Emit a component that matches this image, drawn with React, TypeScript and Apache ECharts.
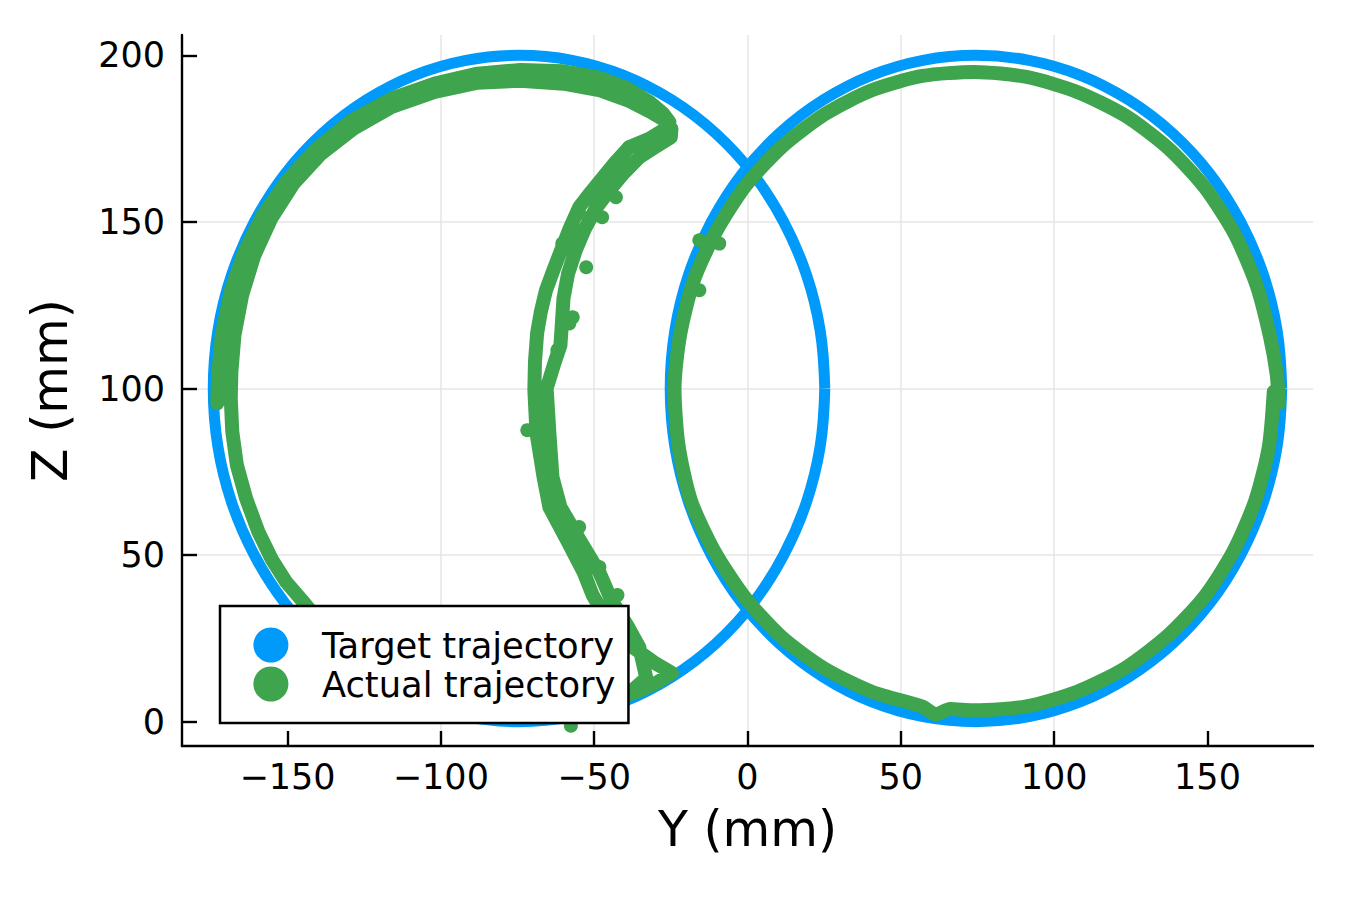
import React, { useEffect, useRef } from "react";
import * as echarts from "echarts";

// ---- data ----
const xTicks = [-150, -100, -50, 0, 50, 100, 150];
const yTicks = [0, 50, 100, 150, 200];
const xRange = [-184.4, 184.4];
const yRange = [-7.3, 206.1];

const seriesNames = ["Target trajectory", "Actual trajectory"];

// target trajectory: left loop
const targetLeft: number[][] = [
  [25.2, 100], [23.7, 117.4], [19.2, 134.2], [11.8, 150], [1.9, 164.3], [-10.4, 176.6],
  [-24.7, 186.6], [-40.4, 194], [-57.2, 198.5], [-74.5, 200], [-91.8, 198.5], [-108.6, 194],
  [-124.3, 186.6], [-138.6, 176.6], [-150.9, 164.3], [-160.8, 150], [-168.2, 134.2], [-172.7, 117.4],
  [-174.2, 100], [-172.7, 82.6], [-168.2, 65.8], [-160.8, 50], [-150.9, 35.7], [-138.6, 23.4],
  [-124.3, 13.4], [-108.6, 6], [-91.8, 1.5], [-74.5, 0], [-57.2, 1.5], [-40.4, 6],
  [-24.7, 13.4], [-10.4, 23.4], [1.9, 35.7], [11.8, 50], [19.2, 65.8], [23.7, 82.6], [25.2, 100],
];

// target trajectory: right loop
const targetRight: number[][] = [
  [174.2, 100], [172.7, 117.4], [168.2, 134.2], [160.8, 150], [150.9, 164.3], [138.6, 176.6],
  [124.3, 186.6], [108.6, 194], [91.8, 198.5], [74.5, 200], [57.2, 198.5], [40.4, 194],
  [24.7, 186.6], [10.4, 176.6], [-1.9, 164.3], [-11.8, 150], [-19.2, 134.2], [-23.7, 117.4],
  [-25.2, 100], [-23.7, 82.6], [-19.2, 65.8], [-11.8, 50], [-1.9, 35.7], [10.4, 23.4],
  [24.7, 13.4], [40.4, 6], [57.2, 1.5], [74.5, 0], [91.8, 1.5], [108.6, 6],
  [124.3, 13.4], [138.6, 23.4], [150.9, 35.7], [160.8, 50], [168.2, 65.8], [172.7, 82.6], [174.2, 100],
];

// actual trajectory: right loop
const actualRight: number[][] = [
  [173.2, 95.5], [172.6, 104], [170.4, 115.5], [166, 131], [158.8, 146.5], [149, 160.5],
  [137, 172.3], [123, 182], [107.5, 189], [91, 193.5], [74, 195], [57, 193.8],
  [40.5, 189.5], [25.5, 182.5], [11.5, 172.8], [-0.5, 161], [-10, 147.5], [-17.5, 132.5],
  [-22, 116], [-23.8, 100], [-22.5, 83], [-18.5, 66.5], [-11, 51.5], [-1, 37.5],
  [11, 25.5], [25, 16], [40.5, 9], [57, 4.5], [61.5, 2.2], [66, 3.8], [74, 3.4], [91, 4.6],
  [107.5, 9], [123, 16], [137, 25.8], [149, 37.5], [158.5, 51.2], [165.6, 66.4],
  [170, 82.5], [171.6, 99],
];

// actual trajectory: left part
// outer pass up and over the top, first crescent strand down, bottom pass,
// inner pass up and over the top, second crescent strand down
const actualLeft: number[][] = [
  [-172.9, 95.5], [-172.6, 104], [-171.4, 116], [-168.5, 129], [-164, 141], [-158, 152],
  [-150, 162.5], [-140.5, 172], [-129, 180.5], [-116, 187], [-102, 191.5], [-88, 194.5],
  [-74, 195.6], [-60, 195.2], [-48, 193.2], [-39, 190], [-32, 186], [-27.5, 182.5], [-25.5, 180],
  [-27.5, 177.5], [-32, 175], [-38.6, 172.4], [-43, 168], [-46, 164.6], [-51, 159], [-54.9, 154.4],
  [-58, 148], [-60.4, 142.4], [-63.3, 135.5], [-65.7, 129.5], [-67.4, 123], [-68.6, 116.6],
  [-69.3, 108], [-69.5, 99.5], [-68.8, 86.6], [-66.5, 73.4], [-64.6, 64.4], [-58.9, 54.5],
  [-53.3, 44.6], [-50.5, 38], [-47, 32.5], [-44.1, 28.4], [-40, 24], [-35.3, 21], [-30, 17.5],
  [-24.6, 14.6],
  [-30, 11.5], [-36, 9], [-44, 6.5], [-52, 5], [-62, 4], [-74, 4], [-88, 5.5], [-102, 9],
  [-114, 14], [-126, 20], [-137, 27], [-144.5, 35.6], [-150.5, 42], [-155, 48.5], [-159.5, 57],
  [-163.5, 67], [-166.5, 77], [-168, 87], [-168.5, 97], [-168.3, 105],
  [-167.3, 116], [-164.8, 128], [-160.8, 140], [-155.3, 151], [-148, 161.5], [-139, 170.5],
  [-128.5, 178], [-116, 184.5], [-102, 189], [-88, 191.8], [-74, 192.4], [-60, 191.5], [-48, 189.5],
  [-39, 186.5], [-32, 183.2], [-27, 180.5], [-24.8, 178],
  [-25, 175.4], [-30, 172.5], [-35.3, 169.4], [-40.5, 164.5], [-45, 159.5], [-49.5, 154],
  [-53, 148], [-56, 141.5], [-58.5, 134.5], [-60, 127], [-60.5, 120], [-61, 113], [-63, 107.5],
  [-65.5, 100], [-64.6, 86.6], [-63.6, 73.4], [-61, 64.4], [-54.7, 54.5], [-48.2, 44.6],
  [-44.4, 36.5], [-38.9, 28.4], [-35.3, 22.4], [-33, 13.1], [-38, 9], [-46, 6.5], [-54, 5],
];

// actual trajectory: scattered samples that stand off the band
const actualSamples: number[][] = [
  [-57.6, -1.2], [-38.6, 172.4], [-45, 164.6], [-42.9, 157.4], [-54.9, 152.6], [-47.4, 151.4],
  [-60.4, 143.5], [-52.6, 136.4], [-57, 121.4], [-58.1, 119.5], [-62, 111.5], [-71.8, 87.5],
  [-54.9, 58.4], [-48.3, 46.4], [-42.4, 38], [-9.2, 143.5], [-15.7, 144.5], [-15.7, 129.5],
];

const BLUE = "#009AFA";
const GREEN = "#3EA44E";
const FONT = "DejaVu Sans";

const minus = (v: number) => String(v).replace("-", "\u2212");

export default function App() {
  const ref = useRef<HTMLDivElement>(null);

  useEffect(() => {
    if (!ref.current) return;
    const chart = echarts.init(ref.current, null, { renderer: "svg" });

    const axisCommon = {
      type: "value",
      nameLocation: "middle",
      nameTextStyle: { fontFamily: FONT, fontSize: 49, color: "#000" },
      axisLine: { show: true, onZero: false, lineStyle: { color: "#000", width: 2.4 } },
      splitLine: {
        show: true,
        showMinLine: false,
        showMaxLine: false,
        lineStyle: { color: "#e6e6e6", width: 1.5 },
      },
    };

    const greenLine = {
      name: seriesNames[1],
      type: "line",
      showSymbol: false,
      lineStyle: { color: GREEN, width: 14, cap: "round", join: "round" },
      itemStyle: { color: GREEN },
      z: 3,
      silent: true,
    };

    const blueLine = {
      name: seriesNames[0],
      type: "line",
      showSymbol: false,
      smooth: 0.4,
      lineStyle: { color: BLUE, width: 11 },
      itemStyle: { color: BLUE },
      z: 2,
      silent: true,
    };

    chart.setOption({
      animation: false,
      backgroundColor: "#fff",
      grid: { left: 182, right: 37, top: 35, bottom: 154, containLabel: false },
      xAxis: {
        ...axisCommon,
        min: xRange[0],
        max: xRange[1],
        name: "Y (mm)",
        nameGap: 59,
        axisTick: {
          show: true,
          inside: true,
          length: 15,
          customValues: xTicks,
          lineStyle: { color: "#000", width: 2.4 },
        },
        axisLabel: {
          customValues: xTicks,
          formatter: minus,
          fontFamily: FONT,
          fontSize: 35,
          color: "#000",
          margin: 13,
        },
      },
      yAxis: {
        ...axisCommon,
        min: yRange[0],
        max: yRange[1],
        name: "Z (mm)",
        nameRotate: 90,
        nameGap: 107,
        axisTick: {
          show: true,
          inside: true,
          length: 15,
          customValues: yTicks,
          lineStyle: { color: "#000", width: 2.4 },
        },
        axisLabel: {
          customValues: yTicks,
          formatter: minus,
          fontFamily: FONT,
          fontSize: 35,
          color: "#000",
          margin: 17,
        },
      },
      legend: {
        data: [
          { name: seriesNames[0], icon: "circle", itemStyle: { color: BLUE, borderWidth: 0 } },
          { name: seriesNames[1], icon: "circle", itemStyle: { color: GREEN, borderWidth: 0 } },
        ],
        orient: "vertical",
        left: 220,
        top: 606,
        itemWidth: 92,
        itemHeight: 35,
        itemGap: 4,
        padding: [21.5, 13, 21.5, 33.4],
        backgroundColor: "#fff",
        borderColor: "#000",
        borderWidth: 2.5,
        borderRadius: 0,
        selectedMode: false,
        textStyle: { fontFamily: FONT, fontSize: 35.3, color: "#000" },
      },
      series: [
        { ...blueLine, data: targetLeft },
        { ...blueLine, data: targetRight },
        { ...greenLine, data: actualRight, smooth: 0.25 },
        { ...greenLine, data: actualLeft },
        {
          name: seriesNames[1],
          type: "scatter",
          data: actualSamples,
          symbol: "circle",
          symbolSize: 14,
          itemStyle: { color: GREEN, opacity: 1 },
          z: 3,
          silent: true,
        },
      ],
    });

    return () => chart.dispose();
  }, []);

  return (
    <div
      ref={ref}
      style={{ position: "fixed", left: 0, top: 0, width: 1350, height: 900, background: "#fff" }}
    />
  );
}
